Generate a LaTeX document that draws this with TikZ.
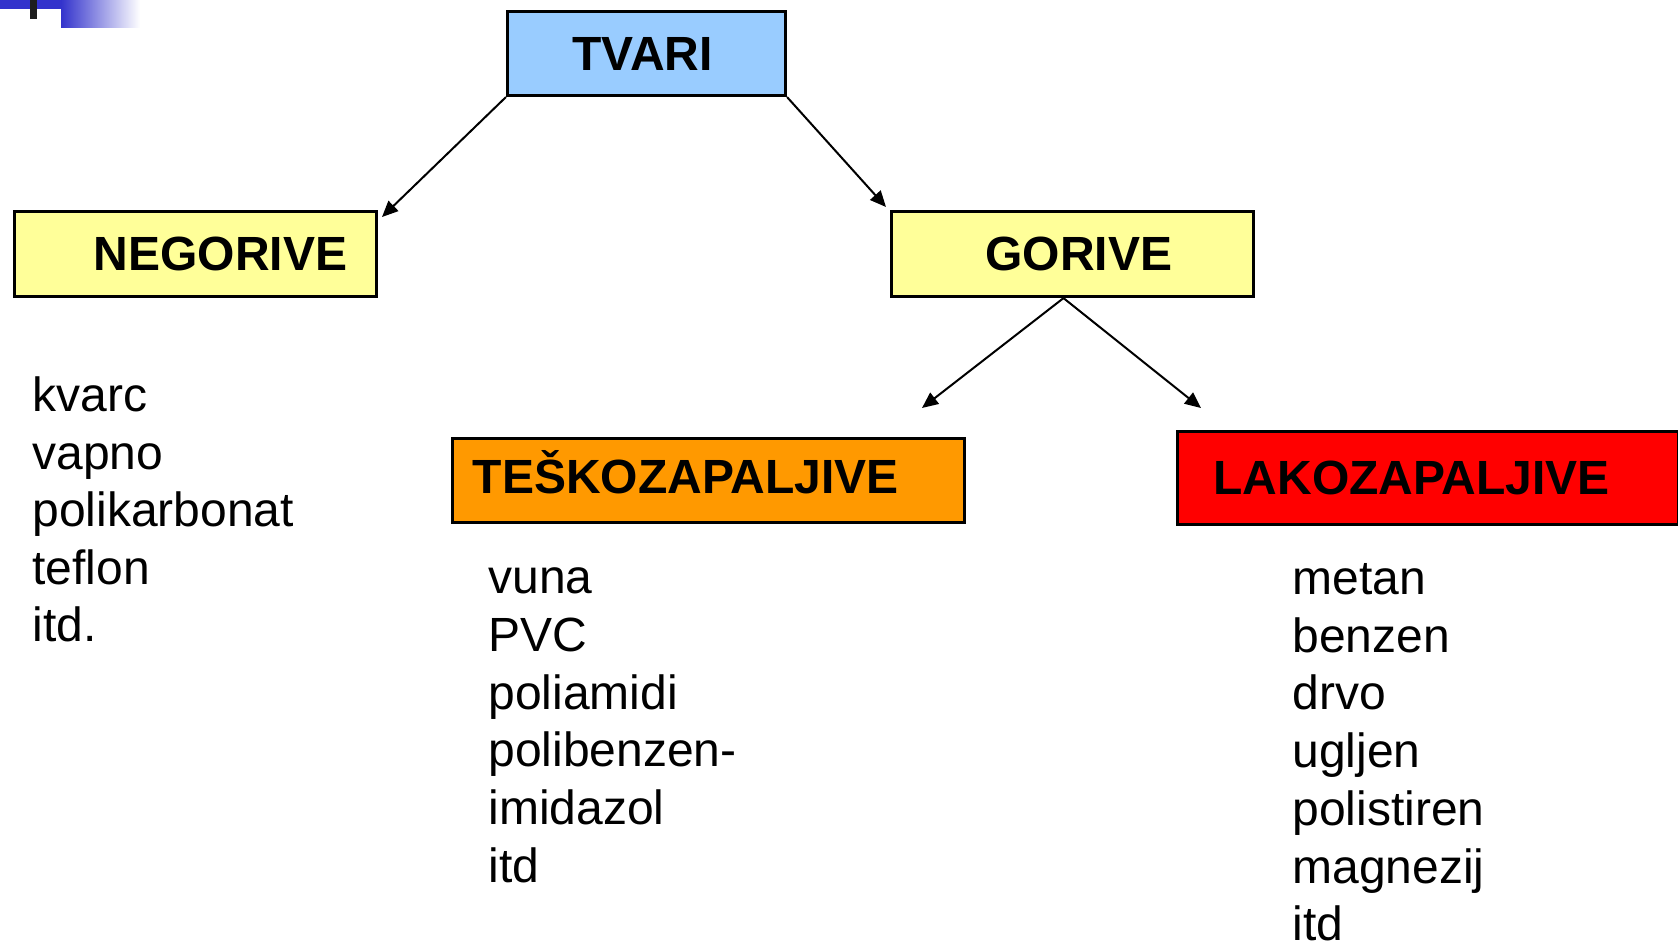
\documentclass[tikz,border=0pt]{standalone}
\usepackage{fontspec}
\setmainfont{Liberation Sans}
\usetikzlibrary{arrows.meta}

\definecolor{tvaricolor}{RGB}{153,204,255}
\definecolor{gorivecolor}{RGB}{255,255,153}
\definecolor{teskocolor}{RGB}{255,153,0}
\definecolor{lakocolor}{RGB}{255,0,0}
\definecolor{cornercolor}{RGB}{51,51,204}
\definecolor{barcolor}{RGB}{30,30,30}

\tikzset{
    box/.style={draw=black, line width=1.6pt, inner sep=0pt, align=left,
        font=\fontsize{24}{29}\selectfont\bfseries},
    item/.style={anchor=base west, inner sep=0pt, font=\fontsize{24}{29}\selectfont},
    arrow/.style={line width=1pt, -{Triangle[length=8pt,width=7pt]}}
}

\begin{document}
\begin{tikzpicture}[x=0.5pt, y=-0.5pt]
    \useasboundingbox (0,0) rectangle (1678,942);

    % Slide corner
    \fill[cornercolor] (0,0) rectangle (61,9);
    \shade[left color=cornercolor, right color=white] (61,0) rectangle (140,27);
    \fill[barcolor] (30,0) rectangle (37,19);

    % Draw the boxes
    \node[box, fill=tvaricolor, text width=139pt, minimum height=42pt] (tvari) at (646.5,53.5) {\hspace*{32.5pt}TVARI};
    \node[box, fill=gorivecolor, text width=181pt, minimum height=42.5pt] (negorive) at (195.5,254) {\hspace*{39.7pt}NEGORIVE};
    \node[box, fill=gorivecolor, text width=181pt, minimum height=42.5pt] (gorive) at (1072.5,254) {\hspace*{47pt}GORIVE};
    \node[box, fill=teskocolor, text width=256pt, minimum height=42pt] (tesko) at (708.5,480.5) {\hspace*{10.2pt}\raisebox{-6.4pt}[0pt][0pt]{TEŠKOZAPALJIVE}};
    \node[box, fill=lakocolor, text width=250.5pt, minimum height=46.5pt] (lako) at (1428,478) {\hspace*{18pt}LAKOZAPALJIVE};

    % Arrow ends
    \coordinate (negtip) at (382,217);
    \coordinate (gortip) at (886,207);
    \coordinate (teskotip) at (922,408);
    \coordinate (lakotip) at (1201,408);

    % Draw the arrows
    \draw[arrow] (tvari.south west) -- (negtip);
    \draw[arrow] (tvari.south east) -- (gortip);
    \draw[arrow] ([xshift=-4.5pt]gorive.south) -- (teskotip);
    \draw[arrow] ([xshift=-4.5pt]gorive.south) -- (lakotip);

    % Lists of examples
    \foreach \w [count=\i] in {kvarc, vapno, polikarbonat, teflon, itd.} {
        \node[item] (neg\i) at (32, {411.7+57.5*(\i-1)}) {\w};
    }
    \foreach \w [count=\i] in {vuna, PVC, poliamidi, polibenzen-, imidazol, itd} {
        \node[item] (tesko\i) at (488, {593.5+57.8*(\i-1)}) {\w};
    }
    \foreach \w [count=\i] in {metan, benzen, drvo, ugljen, polistiren, magnezij, itd} {
        \node[item] (lako\i) at (1292, {594.5+57.7*(\i-1)}) {\w};
    }
\end{tikzpicture}
\end{document}
